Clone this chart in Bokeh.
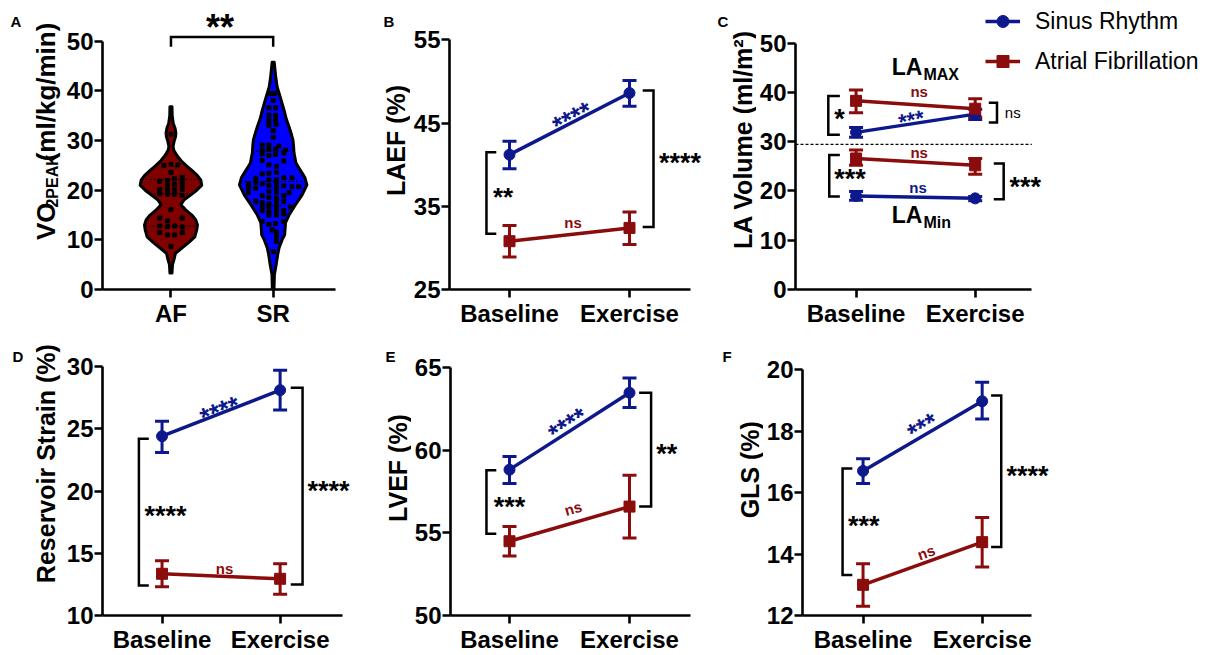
import math
import numpy as np
from bokeh.plotting import figure
from bokeh.models import (ColumnDataSource, Legend, LegendItem, Whisker,
                          TeeHead, FixedTicker, Range1d)
from bokeh.layouts import row, column
from bokeh.core.properties import value
from bokeh.embed import file_html
from bokeh.resources import INLINE

FONT = "Liberation Sans"
SR_C = "#0C188C"
AF_C = "#8A0C0C"
AF_FILL = "#800000"
SR_FILL = "#0000FF"

# ---------------- data ----------------
groups = ["Baseline", "Exercise"]
violin_groups = ["AF", "SR"]

# Panel A: VO2peak violins (profile: value, half width in category units)
af_prof_v = [3.3, 5.0, 6.0, 7.3, 8.6, 9.5, 10.6, 12.0, 13.0, 14.0, 15.0, 15.5, 16.2, 17.1, 18.0,
             19.1, 20.0, 21.0, 22.1, 23.0, 24.0, 25.0, 26.0, 27.0, 28.0, 28.8, 29.8, 30.8, 31.6,
             32.5, 33.5, 35.0, 36.8]
af_prof_w = [0.01, 0.015, 0.029, 0.044, 0.121, 0.175, 0.233, 0.252, 0.259, 0.243, 0.204, 0.175,
             0.136, 0.097, 0.126, 0.194, 0.252, 0.301, 0.291, 0.257, 0.204, 0.146, 0.097, 0.058,
             0.029, 0.02, 0.03, 0.045, 0.048, 0.04, 0.022, 0.012, 0.01]
sr_prof_v = [0, 3, 5, 7, 8.4, 10, 11, 13.5, 15, 17.1, 19, 21.1, 22.5, 23.5, 24.8, 25.5, 27.5, 29,
             30.1, 31.5, 32.8, 34.5, 36.1, 38.5, 40.8, 43, 45.8]
sr_prof_w = [0.008, 0.012, 0.029, 0.044, 0.058, 0.087, 0.112, 0.121, 0.155, 0.218, 0.282, 0.330,
             0.311, 0.282, 0.243, 0.223, 0.204, 0.199, 0.194, 0.175, 0.155, 0.126, 0.107, 0.073,
             0.039, 0.024, 0.01]
af_quart = [12.8, 19.3, 22.2]
sr_quart = [16.9, 21.75, 27.9]

af_pts_dx = [0.0, -0.07, 0.0, 0.065, 0.0, 0.11, -0.11, -0.035, 0.035, 0.11, -0.035, 0.035, 0.11,
             -0.11, -0.035, 0.035, 0.11, -0.11, -0.035, 0.035, 0.11, 0.0, -0.11, -0.035, 0.11,
             -0.11, -0.035, 0.035, 0.11, -0.11, -0.035, 0.035, 0.11, 0.0]
af_pts_v = [31.3, 25.0, 25.2, 25.1, 23.6, 22.6, 21.8, 22.0, 22.3, 21.7, 21.0, 21.2, 21.0,
            20.2, 20.1, 20.1, 20.2, 19.3, 19.2, 19.2, 19.0, 16.1, 14.4, 13.8, 14.4,
            12.8, 12.7, 12.8, 12.6, 11.5, 11.0, 11.0, 11.5, 8.7]
sr_pts_dx = [-0.026, 0.016, 0.0, -0.042, 0.023, -0.042, 0.023, -0.042, 0.023, -0.042, 0.029, 0.0, 0.0,
             -0.107, -0.042, 0.055, -0.107, -0.042, 0.023, 0.12, -0.107, -0.042, 0.023, 0.104,
             -0.107, 0.104, 0.032, -0.042, -0.107, -0.042, 0.032,
             -0.17, -0.042, 0.032, 0.104, 0.184,
             -0.243, -0.17, -0.107, -0.042, 0.032, 0.104, 0.184, 0.25,
             -0.243, -0.17, 0.032, -0.042, 0.032, -0.243, 0.155,
             -0.107, -0.042, 0.032, 0.104, -0.17, -0.107, -0.042, 0.032, 0.104,
             -0.107, -0.042, 0.032, 0.17, -0.107, -0.042, 0.032, 0.104,
             -0.042, 0.032, 0.104, -0.107, 0.104, -0.042, 0.023, -0.01, 0.032, 0.032, 0.032, 0.0]
sr_pts_v = [39.5, 39.5, 38.1, 36.6, 36.6, 35.1, 35.1, 34.0, 34.2, 33.1, 33.3, 32.0, 30.7,
            29.1, 29.1, 28.9, 28.1, 28.2, 28.3, 28.1, 27.3, 27.0, 27.2, 27.5,
            26.0, 25.9, 24.8, 25.1, 23.3, 23.4, 23.6,
            22.4, 22.1, 22.1, 22.5, 22.5,
            21.3, 21.5, 21.3, 21.0, 21.3, 20.9, 20.7, 20.7,
            20.5, 20.4, 20.4, 19.8, 19.5, 19.5, 19.5,
            18.9, 18.6, 18.4, 18.9, 17.8, 17.5, 17.3, 17.5, 17.8,
            16.5, 16.6, 16.5, 16.6, 15.9, 15.6, 15.8, 15.9,
            15.0, 15.0, 15.2, 13.7, 13.7, 13.1, 13.3, 12.0, 11.6, 10.7, 9.7, 7.6]

# Panel B: LAEF (%)
laef_sr = [41.2, 48.6]; laef_sr_lo = [39.5, 47.0]; laef_sr_hi = [42.8, 50.1]
laef_af = [30.8, 32.4]; laef_af_lo = [28.9, 30.4]; laef_af_hi = [32.7, 34.3]

# Panel C: LA volume (ml/m2)
lamax_sr = [31.9, 35.6]; lamax_sr_lo = [30.9, 34.5]; lamax_sr_hi = [32.9, 36.6]
lamax_af = [38.3, 36.7]; lamax_af_lo = [35.9, 35.0]; lamax_af_hi = [40.5, 38.7]
lamin_af = [26.6, 25.2]; lamin_af_lo = [25.2, 23.4]; lamin_af_hi = [28.3, 26.6]
lamin_sr = [19.0, 18.5]; lamin_sr_lo = [18.1, 18.0]; lamin_sr_hi = [19.9, 18.9]
la_divider = 29.45

# Panel D: Reservoir strain (%)
rs_sr = [24.4, 28.1]; rs_sr_lo = [23.1, 26.5]; rs_sr_hi = [25.6, 29.7]
rs_af = [13.35, 12.95]; rs_af_lo = [12.3, 11.7]; rs_af_hi = [14.4, 14.15]

# Panel E: LVEF (%)
lvef_sr = [58.84, 63.5]; lvef_sr_lo = [58.0, 62.6]; lvef_sr_hi = [59.64, 64.4]
lvef_af = [54.5, 56.6]; lvef_af_lo = [53.6, 54.7]; lvef_af_hi = [55.4, 58.5]

# Panel F: GLS (%)
gls_sr = [16.71, 18.98]; gls_sr_lo = [16.3, 18.4]; gls_sr_hi = [17.11, 19.6]
gls_af = [13.0, 14.39]; gls_af_lo = [12.3, 13.58]; gls_af_hi = [13.69, 15.19]

# ---------------- layout geometry (pixels) ----------------
GEOM = {
    "A": dict(strip_x=0, fig_x=63, fig_w=297, fig_y=0, fig_h=330, frame_left=100, frame_top=3,
              px_top=41, px_bottom=290, vmin=0, vmax=50, cat1=169, cat2=272, axis_end=335,
              yticks=[0, 10, 20, 30, 40, 50]),
    "B": dict(strip_x=360, fig_x=410, fig_w=300, fig_y=0, fig_h=330, frame_left=449, frame_top=3,
              px_top=39.3, px_bottom=289.3, vmin=25, vmax=55, cat1=509, cat2=629, axis_end=690,
              yticks=[25, 35, 45, 55]),
    "C": dict(strip_x=710, fig_x=756, fig_w=451, fig_y=0, fig_h=330, frame_left=792, frame_top=3,
              px_top=43.3, px_bottom=293.3, vmin=0, vmax=50, cat1=853, cat2=973, axis_end=1030,
              yticks=[0, 10, 20, 30, 40, 50]),
    "D": dict(strip_x=0, fig_x=63, fig_w=297, fig_y=330, fig_h=325, frame_left=100, frame_top=333,
              px_top=366, px_bottom=615, vmin=10, vmax=30, cat1=160, cat2=279, axis_end=342,
              yticks=[10, 15, 20, 25, 30]),
    "E": dict(strip_x=360, fig_x=411, fig_w=299, fig_y=330, fig_h=325, frame_left=450, frame_top=333,
              px_top=367.7, px_bottom=616.7, vmin=50, vmax=65, cat1=509, cat2=629, axis_end=690,
              yticks=[50, 55, 60, 65]),
    "F": dict(strip_x=710, fig_x=763, fig_w=444, fig_y=330, fig_h=325, frame_left=799, frame_top=333,
              px_top=370, px_bottom=619.3, vmin=12, vmax=20, cat1=860, cat2=980, axis_end=1030,
              yticks=[12, 14, 16, 18, 20]),
}

STAR_C = 0.14   # vertical centring of asterisks relative to the text anchor (em)


def make_strip(key):
    g = GEOM[key]
    w = g["fig_x"] - g["strip_x"]
    s = figure(width=w, height=g["fig_h"],
               x_range=Range1d(g["strip_x"], g["fig_x"]),
               y_range=Range1d(g["fig_y"] + g["fig_h"], g["fig_y"]),
               x_axis_type=None, y_axis_type=None, output_backend="svg",
               toolbar_location=None, tools="", title=None,
               min_border_left=0, min_border_right=0, min_border_top=0, min_border_bottom=0)
    s.outline_line_color = None
    s.background_fill_color = "white"
    s.border_fill_color = "white"
    return s


def strip_text(s, txt, x, y, size, angle=0, align="left", bold=True):
    s.text(x=[x], y=[y], text=[txt], text_color="black", text_font=value(FONT),
           text_font_size=f"{size}px", text_font_style="bold" if bold else "normal",
           text_align=align, text_baseline="alphabetic", angle=angle, angle_units="deg")


def make_fig(key, xlabels):
    g = GEOM[key]
    sx = g["cat2"] - g["cat1"]
    x_start = 1 + (g["frame_left"] - g["cat1"]) / sx
    x_end = 1 + (g["fig_x"] + g["fig_w"] - g["cat1"]) / sx
    x_axis_end = 1 + (g["axis_end"] - g["cat1"]) / sx
    ky = (g["px_bottom"] - g["px_top"]) / (g["vmax"] - g["vmin"])
    y_end = g["vmin"] + (g["px_bottom"] - g["frame_top"]) / ky
    p = figure(width=g["fig_w"], height=g["fig_h"],
               x_range=Range1d(x_start, x_end), y_range=Range1d(g["vmin"], y_end),
               output_backend="svg", toolbar_location=None, tools="", title=None,
               min_border_left=int(round(g["frame_left"] - g["fig_x"])), min_border_right=0,
               min_border_top=int(round(g["frame_top"] - g["fig_y"])),
               min_border_bottom=int(round(g["fig_y"] + g["fig_h"] - g["px_bottom"])))
    p.outline_line_color = None
    p.xgrid.visible = False
    p.ygrid.visible = False
    p.background_fill_color = "white"
    p.border_fill_color = "white"
    for ax in (p.xaxis[0], p.yaxis[0]):
        ax.axis_line_width = 2.6
        ax.axis_line_color = "black"
        ax.major_tick_line_width = 2.6
        ax.major_tick_line_color = "black"
        ax.major_tick_out = 8
        ax.major_tick_in = 0
        ax.minor_tick_out = 0
        ax.minor_tick_in = 0
        ax.major_label_text_font = FONT
        ax.major_label_text_font_style = "bold"
        ax.major_label_text_font_size = "24px"
        ax.major_label_text_color = "black"
    p.xaxis.ticker = FixedTicker(ticks=[1, 2])
    p.xaxis.major_label_overrides = {1: xlabels[0], 2: xlabels[1]}
    p.xaxis.bounds = (x_start, x_axis_end)
    p.xaxis.major_label_standoff = 2
    p.yaxis.ticker = FixedTicker(ticks=g["yticks"])
    p.yaxis.bounds = (g["vmin"], g["vmax"])
    p.yaxis.major_label_standoff = 1
    return p


def series(p, vals, lo, hi, color, marker):
    xs = [1, 2]
    ln = p.line(xs, vals, line_color=color, line_width=3.5)
    src = ColumnDataSource(dict(x=xs, lo=lo, hi=hi))
    p.add_layout(Whisker(source=src, base="x", lower="lo", upper="hi", line_color=color,
                         line_width=3,
                         upper_head=TeeHead(size=14, line_color=color, line_width=3),
                         lower_head=TeeHead(size=14, line_color=color, line_width=3)))
    sc = p.scatter(xs, vals, marker=marker, size=11, fill_color=color, line_color=color)
    return ln, sc


def brackets(p, items):
    for (xt, xv, yt, yb) in items:
        p.line([xt, xv, xv, xt], [yt, yt, yb, yb], line_color="black", line_width=2.5,
               line_join="miter")


def texts(p, items):
    for (txt, x, y, color, size, bold, angle) in items:
        c = STAR_C if "*" in txt else 0.0
        th = math.radians(angle)
        p.text(x=[x], y=[y], text=[txt], text_color=color, text_font=value(FONT),
               text_font_size=f"{size}px", text_font_style="bold" if bold else "normal",
               text_align="center", text_baseline="alphabetic", angle=angle, angle_units="deg",
               x_offset=c * size * math.sin(th), y_offset=c * size * math.cos(th))


# ---------------- Panel A ----------------
sA = make_strip("A")
strip_text(sA, "A", 10, 21, 15)
yA = 273.0
for txt, fs, cx in [("VO", 26, 45), ("2PEAK", 16, 52), ("(ml/kg/min)", 26, 45)]:
    strip_text(sA, txt, cx, yA, fs, angle=90)
    adv = {"VO": 1.445, "2PEAK": 3.334, "(ml/kg/min)": 5.334}[txt]
    yA -= adv * fs

pA = make_fig("A", violin_groups)
for cx, pv, pw, fill, q, dx, pv_pts in [
        (1, af_prof_v, af_prof_w, AF_FILL, af_quart, af_pts_dx, af_pts_v),
        (2, sr_prof_v, sr_prof_w, SR_FILL, sr_quart, sr_pts_dx, sr_pts_v)]:
    v = np.array(pv, dtype=float)
    w = np.array(pw, dtype=float)
    xs = np.concatenate([cx + w, (cx - w)[::-1]])
    ys = np.concatenate([v, v[::-1]])
    pA.patch(xs, ys, fill_color=fill, line_color="black", line_width=3, line_join="round")
    for qv in q:
        hw = float(np.interp(qv, v, w))
        pA.line([cx - hw, cx + hw], [qv, qv], line_color="black", line_width=1,
                line_dash="2 2")
    pA.scatter(cx + np.array(dx), pv_pts, marker="square", size=4, fill_color="black",
               line_color="black")
pA.line([1, 1, 2, 2], [48.9, 50.9, 50.9, 48.9], line_color="black", line_width=2.5,
        line_join="miter")
texts(pA, [("**", 1.48, 53.9, "black", 36, True, 0)])

# ---------------- Panel B ----------------
sB = make_strip("B")
strip_text(sB, "B", 383, 21, 15)
strip_text(sB, "LAEF (%)", 395, 158, 25, angle=90, align="center")
pB = make_fig("B", groups)
series(pB, laef_sr, laef_sr_lo, laef_sr_hi, SR_C, "circle")
series(pB, laef_af, laef_af_lo, laef_af_hi, AF_C, "square")
brackets(pB, [(0.89, 0.808, 41.5, 31.7), (2.11, 2.2, 48.9, 32.5)])
texts(pB, [("**", 0.946, 36.5, "black", 26, True, 0),
           ("****", 2.42, 40.7, "black", 27, True, 0),
           ("****", 1.51, 46.0, SR_C, 26, True, 27.2),
           ("ns", 1.53, 33.1, AF_C, 15, True, 0)])

# ---------------- Panel C ----------------
sC = make_strip("C")
strip_text(sC, "C", 717, 21, 15)
strip_text(sC, "LA Volume (ml/m\u00b2)", 742, 157, 25, angle=90, align="center")
pC = make_fig("C", groups)
gC = GEOM["C"]
xC0 = 1 + (gC["frame_left"] - gC["cat1"]) / (gC["cat2"] - gC["cat1"])
xC1 = 1 + (gC["axis_end"] - gC["cat1"]) / (gC["cat2"] - gC["cat1"])
pC.line([xC0, xC1], [la_divider, la_divider], line_color="black", line_width=1.2,
        line_dash="3 2")
sr_ln, sr_sc = series(pC, lamax_sr, lamax_sr_lo, lamax_sr_hi, SR_C, "circle")
af_ln, af_sc = series(pC, lamax_af, lamax_af_lo, lamax_af_hi, AF_C, "square")
series(pC, lamin_af, lamin_af_lo, lamin_af_hi, AF_C, "square")
series(pC, lamin_sr, lamin_sr_lo, lamin_sr_hi, SR_C, "circle")
brackets(pC, [(0.864, 0.767, 39.3, 31.4), (2.114, 2.183, 37.9, 33.9),
              (0.864, 0.775, 27.3, 18.9), (2.156, 2.239, 25.6, 18.3)])
texts(pC, [("*", 0.86, 35.3, "black", 27, True, 0),
           ("ns", 2.315, 35.9, "black", 15, False, 0),
           ("***", 0.95, 23.3, "black", 27, True, 0),
           ("***", 2.42, 21.6, "black", 27, True, 0),
           ("ns", 1.53, 40.1, AF_C, 15, True, 0),
           ("***", 1.46, 35.0, SR_C, 22, True, 12),
           ("ns", 1.53, 27.8, AF_C, 15, True, 0),
           ("ns", 1.52, 20.7, SR_C, 15, True, 0)])
for main, sub, x, y in [("LA", "MAX", 1.3, 45.1), ("LA", "Min", 1.3, 15.1)]:
    pC.text(x=[x], y=[y], text=[main], text_font=value(FONT), text_font_style="bold",
            text_font_size="23px", text_baseline="alphabetic", text_align="left",
            text_color="black")
    pC.text(x=[x], y=[y], text=[sub], text_font=value(FONT), text_font_style="bold",
            text_font_size="16px", text_baseline="alphabetic", text_align="left",
            text_color="black", x_offset=1.333 * 23 + 1, y_offset=7)
legend = Legend(items=[LegendItem(label="Sinus Rhythm", renderers=[sr_ln, sr_sc]),
                       LegendItem(label="Atrial Fibrillation", renderers=[af_ln, af_sc])],
                location=(190, 213), orientation="vertical", padding=0, margin=0, spacing=10,
                glyph_width=35, glyph_height=30, label_height=30, label_standoff=15,
                label_text_font=FONT, label_text_font_size="23px", label_text_color="black",
                border_line_color=None, background_fill_alpha=0)
pC.add_layout(legend)

# ---------------- Panel D ----------------
sD = make_strip("D")
strip_text(sD, "D", 12, 357, 15)
strip_text(sD, "Reservoir Strain (%)", 45, 480, 25, angle=90, align="center")
pD = make_fig("D", groups)
series(pD, rs_sr, rs_sr_lo, rs_sr_hi, SR_C, "circle")
series(pD, rs_af, rs_af_lo, rs_af_hi, AF_C, "square")
brackets(pD, [(0.888, 0.804, 24.2, 12.4), (2.09, 2.19, 28.3, 12.5)])
texts(pD, [("****", 1.03, 18.3, "black", 27, True, 0),
           ("****", 2.41, 20.3, "black", 27, True, 0),
           ("****", 1.48, 26.7, SR_C, 26, True, 21.5),
           ("ns", 1.53, 13.8, AF_C, 15, True, 0)])

# ---------------- Panel E ----------------
sE = make_strip("E")
strip_text(sE, "E", 385, 357, 15)
strip_text(sE, "LVEF (%)", 397, 485, 25, angle=90, align="center")
pE = make_fig("E", groups)
series(pE, lvef_sr, lvef_sr_lo, lvef_sr_hi, SR_C, "circle")
series(pE, lvef_af, lvef_af_lo, lvef_af_hi, AF_C, "square")
brackets(pE, [(0.89, 0.808, 58.8, 54.96), (2.08, 2.18, 63.5, 56.6)])
texts(pE, [("***", 1.0, 56.8, "black", 27, True, 0),
           ("**", 2.31, 60.0, "black", 27, True, 0),
           ("****", 1.47, 61.75, SR_C, 26, True, 32.8),
           ("ns", 1.53, 56.5, AF_C, 15, True, 15.8)])

# ---------------- Panel F ----------------
sF = make_strip("F")
strip_text(sF, "F", 722, 357, 15)
strip_text(sF, "GLS (%)", 749, 487, 25, angle=90, align="center")
pF = make_fig("F", groups)
series(pF, gls_sr, gls_sr_lo, gls_sr_hi, SR_C, "circle")
series(pF, gls_af, gls_af_lo, gls_af_hi, AF_C, "square")
brackets(pF, [(0.91, 0.828, 16.79, 13.32), (2.075, 2.16, 19.17, 14.23)])
texts(pF, [("***", 1.005, 15.03, "black", 27, True, 0),
           ("****", 2.38, 16.66, "black", 27, True, 0),
           ("***", 1.486, 18.24, SR_C, 26, True, 30.6),
           ("ns", 1.53, 14.06, AF_C, 15, True, 19.8)])

layout = column(row(sA, pA, sB, pB, sC, pC), row(sD, pD, sE, pE, sF, pF))
open("out.html", "w").write(file_html(layout, INLINE))
